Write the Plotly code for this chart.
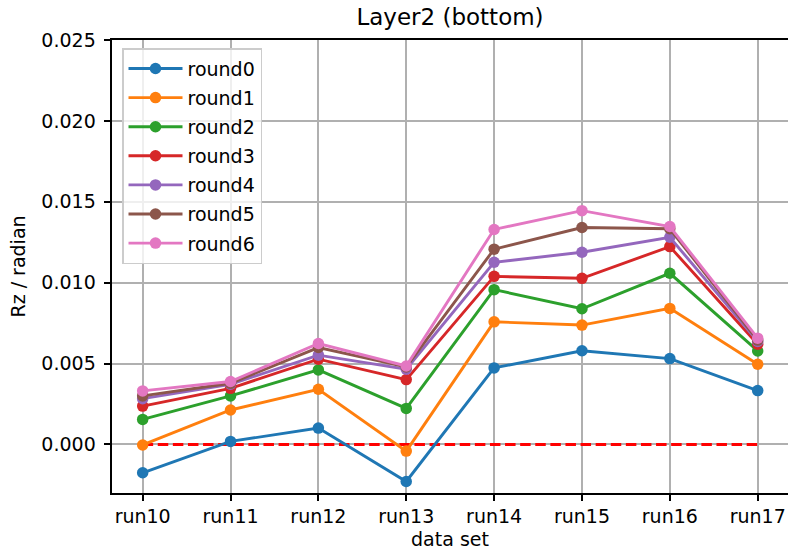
import plotly.graph_objects as go

# Data sets along the x axis
runs = ["run10", "run11", "run12", "run13", "run14", "run15", "run16", "run17"]

# Rz alignment constant (radian) per iteration round
round0 = [-0.00175, 0.00019, 0.00101, -0.00229, 0.00473, 0.00579, 0.00531, 0.00333]
round1 = [-0.00003, 0.00213, 0.00341, -0.00041, 0.00758, 0.00738, 0.00841, 0.00496]
round2 = [0.00155, 0.00300, 0.00461, 0.00223, 0.00957, 0.00839, 0.01058, 0.00578]
round3 = [0.00237, 0.00347, 0.00527, 0.00401, 0.01039, 0.01027, 0.01223, 0.00620]
round4 = [0.00283, 0.00372, 0.00552, 0.00465, 0.01126, 0.01188, 0.01281, 0.00637]
round5 = [0.00300, 0.00378, 0.00599, 0.00479, 0.01207, 0.01341, 0.01333, 0.00645]
round6 = [0.00331, 0.00389, 0.00624, 0.00485, 0.01329, 0.01445, 0.01347, 0.00657]

series = {
    "round0": round0, "round1": round1, "round2": round2, "round3": round3,
    "round4": round4, "round5": round5, "round6": round6,
}
colors = ["#1f77b4", "#ff7f0e", "#2ca02c", "#d62728", "#9467bd", "#8c564b", "#e377c2"]

FONT = "DejaVu Sans"

fig = go.Figure()

# Zero reference line
fig.add_trace(go.Scatter(
    x=runs, y=[0.0] * len(runs), mode="lines",
    line=dict(color="red", width=2.9, dash="10.5px,4.6px"),
    showlegend=False, hoverinfo="skip",
))

for (name, vals), c in zip(series.items(), colors):
    fig.add_trace(go.Scatter(
        x=runs, y=vals, mode="lines+markers", name=name,
        legendgroup=name,
        line=dict(color=c, width=2.9),
        marker=dict(color=c, size=11.5, line=dict(width=0)),
    ))

fig.update_layout(
    width=788, height=554,
    margin=dict(l=112, r=0, t=40, b=61),
    paper_bgcolor="white", plot_bgcolor="white",
    font=dict(family=FONT, size=19, color="black"),
    title=dict(text="Layer2 (bottom)", x=450 / 788, xanchor="center",
               y=1 - 17 / 554, yanchor="middle", yref="container",
               font=dict(family=FONT, size=23, color="black")),
    legend=dict(
        x=0.0148, y=0.982, xanchor="left", yanchor="top",
        bgcolor="rgba(255,255,255,0.8)", bordercolor="#cccccc", borderwidth=1.5,
        font=dict(family=FONT, size=19), tracegroupgap=1.4, itemwidth=54,
    ),
    showlegend=True,
)

fig.update_xaxes(
    type="category", range=[-0.349, 7.345],
    showline=True, linecolor="black", linewidth=1.5, mirror=True,
    showgrid=True, gridcolor="#b0b0b0", gridwidth=1.5,
    ticks="outside", ticklen=6.7, tickwidth=1.5, tickcolor="black",
    ticklabelstandoff=-1,
    title=dict(text="data set", font=dict(family=FONT, size=19), standoff=6),
    zeroline=False,
)
fig.update_yaxes(
    range=[-0.003, 0.025], tickvals=[0.0, 0.005, 0.010, 0.015, 0.020, 0.025],
    tickformat=".3f",
    showline=True, linecolor="black", linewidth=1.5, mirror=False,
    showgrid=True, gridcolor="#b0b0b0", gridwidth=1.5,
    ticks="outside", ticklen=6.7, tickwidth=1.5, tickcolor="black",
    ticklabelstandoff=4,
    title=dict(text="Rz / radian", font=dict(family=FONT, size=19), standoff=11),
    zeroline=False,
)

fig.write_html("out.html")
